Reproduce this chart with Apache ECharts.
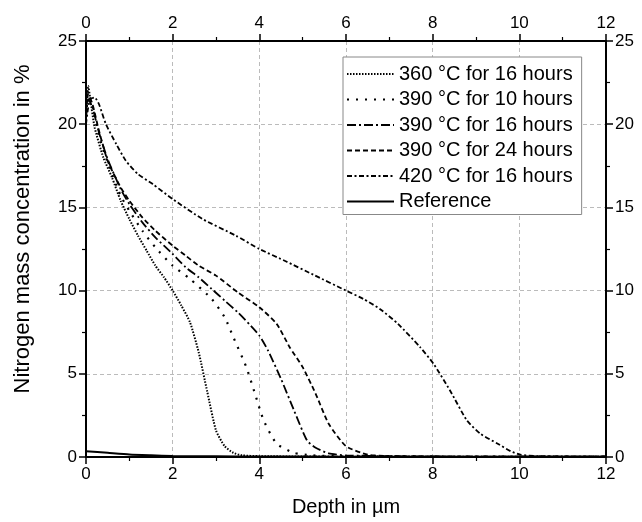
<!DOCTYPE html>
<html lang="en">
<head>
<meta charset="utf-8">
<title>Nitrogen depth profiles</title>
<script src="https://cdn.jsdelivr.net/npm/echarts@6/dist/echarts.min.js"></script>
<style>
  html, body { margin: 0; padding: 0; background: #fff; }
  #main { width: 642px; height: 522px; }
</style>
</head>
<body>
<div id="main"></div>
<script>
// series names
var names = ['360 °C for 16 hours', '390 °C for 10 hours', '390 °C for 16 hours',
             '390 °C for 24 hours', '420 °C for 16 hours', 'Reference'];

// depth (um) / concentration (%)
var x360_16 = [0, 0.05, 0.1, 0.2, 0.4, 0.6, 0.8, 1.0, 1.2, 1.4, 1.6, 1.8, 2.0, 2.2, 2.4, 2.6, 2.8, 3.0, 3.2, 3.4, 3.6, 4.0, 5, 6, 8, 10, 12];
var y360_16 = [20.5, 22.3, 21.5, 19.8, 18.0, 16.8, 15.4, 14.3, 13.3, 12.4, 11.5, 10.8, 10.0, 9.1, 8.1, 6.3, 3.9, 1.6, 0.65, 0.25, 0.1, 0.05, 0.03, 0.02, 0.02, 0.02, 0.02];

var x390_10 = [0, 0.05, 0.15, 0.3, 0.5, 0.8, 1.0, 1.3, 1.6, 2.0, 2.4, 2.9, 3.2, 3.4, 3.7, 3.9, 4.1, 4.4, 4.8, 5.2, 6, 8, 12];
var y390_10 = [20.8, 22.0, 21.0, 19.3, 17.7, 15.7, 14.8, 13.6, 12.6, 11.5, 10.7, 9.5, 8.4, 7.2, 5.4, 3.8, 2.2, 0.8, 0.25, 0.1, 0.05, 0.03, 0.02];

var x390_16 = [0, 0.05, 0.15, 0.3, 0.5, 0.8, 1.0, 1.3, 1.6, 2.0, 2.3, 2.6, 2.9, 3.2, 3.5, 3.8, 4.0, 4.2, 4.5, 4.8, 5.1, 5.3, 5.6, 6, 7, 8, 12];
var y390_16 = [20.3, 21.5, 21.0, 19.5, 17.9, 16.1, 15.2, 14.1, 13.2, 12.2, 11.4, 10.8, 10.1, 9.4, 8.7, 7.9, 7.3, 6.4, 4.7, 2.8, 1.0, 0.55, 0.22, 0.1, 0.05, 0.03, 0.02];

var x390_24 = [0, 0.05, 0.15, 0.3, 0.5, 0.8, 1.0, 1.3, 1.6, 2.0, 2.3, 2.6, 3.0, 3.5, 4.0, 4.4, 4.7, 5.0, 5.3, 5.6, 6.0, 6.5, 7, 8, 12];
var y390_24 = [20.6, 21.8, 21.2, 19.6, 17.8, 16.2, 15.4, 14.4, 13.6, 12.7, 12.1, 11.5, 10.9, 9.9, 9.0, 8.0, 6.6, 5.4, 3.8, 2.0, 0.65, 0.14, 0.06, 0.03, 0.02];

var x420_16 = [0, 0.05, 0.1, 0.2, 0.3, 0.46, 0.7, 0.92, 1.2, 1.54, 2.0, 2.69, 3.46, 4.0, 4.62, 5.25, 6.0, 6.4, 6.78, 7.2, 7.71, 8.02, 8.4, 8.79, 9.1, 9.48, 9.8, 10.02, 10.4, 11, 12];
var y420_16 = [20.0, 21.0, 21.5, 21.6, 21.2, 20.0, 18.8, 17.8, 17.0, 16.4, 15.5, 14.3, 13.3, 12.5, 11.75, 10.95, 10.0, 9.5, 8.9, 8.0, 6.6, 5.6, 4.0, 2.2, 1.4, 0.83, 0.35, 0.14, 0.06, 0.03, 0.02];

var xRef = [0, 0.5, 1, 1.5, 2, 3, 4, 6, 8, 10, 12];
var yRef = [0.35, 0.25, 0.15, 0.1, 0.06, 0.04, 0.03, 0.02, 0.02, 0.01, 0.01];

// dash patterns per series
var dashes = [[1.5, 1.5], [2, 7], [9, 3, 2, 3], [5, 3], [5, 2.5, 2, 2.5], 'solid'];
var widths = [2, 2.2, 1.8, 1.8, 1.8, 2];

function zip(xs, ys) {
    var out = [];
    for (var i = 0; i < xs.length; i++) out.push([xs[i], ys[i]]);
    return out;
}

var allData = [zip(x360_16, y360_16), zip(x390_10, y390_10), zip(x390_16, y390_16),
               zip(x390_24, y390_24), zip(x420_16, y420_16), zip(xRef, yRef)];

var font = 'Liberation Sans, Arial, sans-serif';
var axisLine = { show: true, onZero: false, lineStyle: { color: '#000', width: 2 } };
var tick = { show: true, inside: false, length: 7, lineStyle: { color: '#000', width: 1.5 } };
var minor = { show: true, splitNumber: 2, length: 4, lineStyle: { color: '#000', width: 1.2 } };
var grid = { show: true, lineStyle: { color: '#bbb', type: [4, 3], width: 1 } };
var lbl = { color: '#000', fontSize: 17, fontFamily: font };

var series = names.map(function (n, i) {
    return {
        name: n,
        type: 'line',
        data: allData[i],
        symbol: 'none',
        smooth: 0.2,
        lineStyle: { color: '#000', width: widths[i], type: dashes[i] },
        itemStyle: { color: '#000' }
    };
});

var myChart = echarts.init(document.getElementById('main'));
var option = {
    animation: false,
    backgroundColor: '#fff',
    grid: { left: 86, right: 36, top: 41, bottom: 61 },
    legend: {
        orient: 'vertical',
        left: 343,
        top: 57,
        itemWidth: 47,
        itemHeight: 14,
        itemGap: 5.5,
        padding: [7, 9, 3, 3],
        borderColor: '#888',
        borderWidth: 1,
        backgroundColor: '#fff',
        itemStyle: { color: 'transparent', borderColor: 'transparent', borderWidth: 0, opacity: 0 },
        textStyle: { color: '#000', fontSize: 20, fontFamily: font },
        data: names
    },
    xAxis: [{
        type: 'value', position: 'bottom', min: 0, max: 12, interval: 2,
        name: 'Depth in µm', nameLocation: 'middle', nameGap: 40,
        nameTextStyle: { color: '#000', fontSize: 20, fontFamily: font },
        axisLine: axisLine, axisTick: tick, minorTick: minor, splitLine: grid,
        axisLabel: Object.assign({ margin: 9 }, lbl)
    }, {
        type: 'value', position: 'top', min: 0, max: 12, interval: 2,
        axisLine: axisLine, axisTick: tick, minorTick: minor, splitLine: { show: false },
        axisLabel: Object.assign({ margin: 9 }, lbl)
    }],
    yAxis: [{
        type: 'value', position: 'left', min: 0, max: 25, interval: 5,
        name: 'Nitrogen mass concentration in %', nameLocation: 'middle', nameGap: 52,
        nameTextStyle: { color: '#000', fontSize: 22, fontFamily: font, padding: [0, 0, 0, 40] },
        axisLine: axisLine, axisTick: tick, minorTick: minor, splitLine: grid,
        axisLabel: Object.assign({ margin: 9 }, lbl)
    }, {
        type: 'value', position: 'right', min: 0, max: 25, interval: 5,
        axisLine: axisLine, axisTick: tick, minorTick: minor, splitLine: { show: false },
        axisLabel: Object.assign({ margin: 9 }, lbl)
    }],
    series: series
};
myChart.setOption(option);
</script>
</body>
</html>
